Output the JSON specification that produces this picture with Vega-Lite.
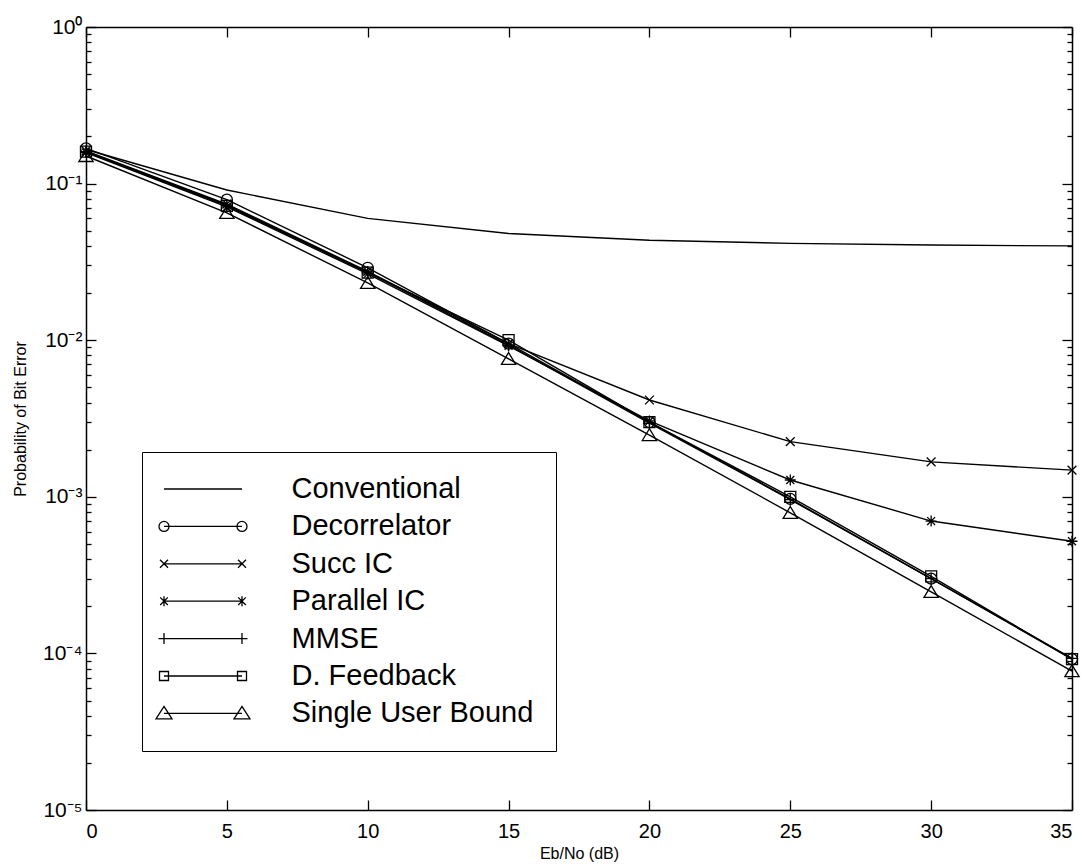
{
  "$schema": "https://vega.github.io/schema/vega-lite/v6.json",
  "width": 986,
  "height": 783,
  "autosize": "none",
  "padding": {"left": 86, "top": 27, "right": 13, "bottom": 57},
  "background": "white",
  "config": {
    "view": {"stroke": null},
    "font": "Liberation Sans",
    "axis": {"grid": false, "domainColor": "black", "domainWidth": 1.5, "tickColor": "black", "tickWidth": 1.3, "labelColor": "black", "titleColor": "black", "labelFont": "Liberation Sans", "titleFont": "Liberation Sans", "titleFontWeight": "normal"}
  },
  "data": {"values": [
    {"x": 0, "v": 0.165, "s": "Conventional"},
    {"x": 5, "v": 0.091, "s": "Conventional"},
    {"x": 10, "v": 0.060, "s": "Conventional"},
    {"x": 15, "v": 0.048, "s": "Conventional"},
    {"x": 20, "v": 0.0435, "s": "Conventional"},
    {"x": 25, "v": 0.0415, "s": "Conventional"},
    {"x": 30, "v": 0.0405, "s": "Conventional"},
    {"x": 35, "v": 0.040, "s": "Conventional"},
    {"x": 0, "v": 0.168, "s": "Decorrelator"},
    {"x": 5, "v": 0.079, "s": "Decorrelator"},
    {"x": 10, "v": 0.029, "s": "Decorrelator"},
    {"x": 15, "v": 0.0095, "s": "Decorrelator"},
    {"x": 20, "v": 0.0030, "s": "Decorrelator"},
    {"x": 25, "v": 0.00097, "s": "Decorrelator"},
    {"x": 30, "v": 0.00030, "s": "Decorrelator"},
    {"x": 35, "v": 0.000092, "s": "Decorrelator"},
    {"x": 0, "v": 0.162, "s": "Succ IC"},
    {"x": 5, "v": 0.074, "s": "Succ IC"},
    {"x": 10, "v": 0.0275, "s": "Succ IC"},
    {"x": 15, "v": 0.0095, "s": "Succ IC"},
    {"x": 20, "v": 0.00415, "s": "Succ IC"},
    {"x": 25, "v": 0.00225, "s": "Succ IC"},
    {"x": 30, "v": 0.00167, "s": "Succ IC"},
    {"x": 35, "v": 0.00148, "s": "Succ IC"},
    {"x": 0, "v": 0.158, "s": "Parallel IC"},
    {"x": 5, "v": 0.071, "s": "Parallel IC"},
    {"x": 10, "v": 0.0265, "s": "Parallel IC"},
    {"x": 15, "v": 0.0092, "s": "Parallel IC"},
    {"x": 20, "v": 0.00305, "s": "Parallel IC"},
    {"x": 25, "v": 0.00128, "s": "Parallel IC"},
    {"x": 30, "v": 0.00070, "s": "Parallel IC"},
    {"x": 35, "v": 0.00052, "s": "Parallel IC"},
    {"x": 0, "v": 0.160, "s": "MMSE"},
    {"x": 5, "v": 0.073, "s": "MMSE"},
    {"x": 10, "v": 0.0272, "s": "MMSE"},
    {"x": 15, "v": 0.0093, "s": "MMSE"},
    {"x": 20, "v": 0.00295, "s": "MMSE"},
    {"x": 25, "v": 0.00096, "s": "MMSE"},
    {"x": 30, "v": 0.00030, "s": "MMSE"},
    {"x": 35, "v": 0.000093, "s": "MMSE"},
    {"x": 0, "v": 0.160, "s": "D. Feedback"},
    {"x": 5, "v": 0.072, "s": "D. Feedback"},
    {"x": 10, "v": 0.027, "s": "D. Feedback"},
    {"x": 15, "v": 0.0100, "s": "D. Feedback"},
    {"x": 20, "v": 0.0030, "s": "D. Feedback"},
    {"x": 25, "v": 0.00100, "s": "D. Feedback"},
    {"x": 30, "v": 0.00031, "s": "D. Feedback"},
    {"x": 35, "v": 0.000092, "s": "D. Feedback"},
    {"x": 0, "v": 0.150, "s": "Single User Bound"},
    {"x": 5, "v": 0.065, "s": "Single User Bound"},
    {"x": 10, "v": 0.0232, "s": "Single User Bound"},
    {"x": 15, "v": 0.0076, "s": "Single User Bound"},
    {"x": 20, "v": 0.00248, "s": "Single User Bound"},
    {"x": 25, "v": 0.00079, "s": "Single User Bound"},
    {"x": 30, "v": 0.000247, "s": "Single User Bound"},
    {"x": 35, "v": 0.000077, "s": "Single User Bound"}
  ]},
  "layer": [
    {
      "mark": {"type": "line", "strokeWidth": 1.4, "color": "black"},
      "encoding": {
        "x": {"field": "x", "type": "quantitative", "scale": {"domain": [0, 35], "nice": false, "zero": false},
          "axis": {"orient": "bottom", "values": [0, 5, 10, 15, 20, 25, 30, 35], "tickSize": -10, "labelPadding": 21, "labelFontSize": 20, "title": "Eb/No (dB)", "titleFontSize": 16, "titlePadding": 4}},
        "y": {"field": "v", "type": "quantitative", "scale": {"type": "log", "domain": [0.00001, 1], "nice": false},
          "axis": {"orient": "left",
            "values": [0.00001,0.00002,0.00003,0.00004,0.00005,0.00006,0.00007,0.00008,0.00009,0.0001,0.0002,0.0003,0.0004,0.0005,0.0006,0.0007,0.0008,0.0009,0.001,0.002,0.003,0.004,0.005,0.006,0.007,0.008,0.009,0.01,0.02,0.03,0.04,0.05,0.06,0.07,0.08,0.09,0.1,0.2,0.3,0.4,0.5,0.6,0.7,0.8,0.9,1],
            "labelExpr": "abs(log(datum.value)/LN10 - round(log(datum.value)/LN10)) > 0.01 ? '' : '10' + ['⁰','⁻¹','⁻²','⁻³','⁻⁴','⁻⁵'][-round(log(datum.value)/LN10)]",
            "tickSize": {"condition": {"test": "abs(log(datum.value)/LN10 - round(log(datum.value)/LN10)) < 0.01", "value": -10}, "value": -5},
            "labelPadding": 14, "labelFontSize": 21, "labelOverlap": false,
            "title": "Probability of Bit Error", "titleFontSize": 16, "titlePadding": 14}},
        "detail": {"field": "s", "type": "nominal"}
      }
    },
    {
      "transform": [{"filter": "datum.s != 'Conventional'"}],
      "mark": {"type": "point", "filled": false, "strokeWidth": 1.3, "color": "black", "size": 121, "opacity": 1},
      "encoding": {
        "x": {"field": "x", "type": "quantitative",
          "axis": {"orient": "top", "values": [0, 5, 10, 15, 20, 25, 30, 35], "tickSize": -10, "labels": false, "title": null}},
        "y": {"field": "v", "type": "quantitative",
          "axis": {"orient": "right",
            "values": [0.00001,0.00002,0.00003,0.00004,0.00005,0.00006,0.00007,0.00008,0.00009,0.0001,0.0002,0.0003,0.0004,0.0005,0.0006,0.0007,0.0008,0.0009,0.001,0.002,0.003,0.004,0.005,0.006,0.007,0.008,0.009,0.01,0.02,0.03,0.04,0.05,0.06,0.07,0.08,0.09,0.1,0.2,0.3,0.4,0.5,0.6,0.7,0.8,0.9,1],
            "tickSize": {"condition": {"test": "abs(log(datum.value)/LN10 - round(log(datum.value)/LN10)) < 0.01", "value": -10}, "value": -5},
            "labels": false, "title": null}},
        "shape": {"field": "s", "type": "nominal", "legend": null,
          "scale": {"domain": ["Decorrelator", "Succ IC", "Parallel IC", "MMSE", "D. Feedback", "Single User Bound"],
            "range": ["circle", "M-0.8,-0.8L0.8,0.8M-0.8,0.8L0.8,-0.8", "M-1,0H1M0,-1V1M-0.72,-0.72L0.72,0.72M-0.72,0.72L0.72,-0.72", "M-1.1,0H1.1M0,-1.1V1.1", "square", "M0,-1.15L1.3,1H-1.3Z"]}}
      }
    },
    {
      "mark": {"type": "point", "filled": false, "strokeWidth": 1.3, "color": "black", "size": 400, "opacity": 0},
      "encoding": {
        "x": {"field": "x", "type": "quantitative", "axis": null},
        "y": {"field": "v", "type": "quantitative", "axis": null},
        "shape": {"field": "s", "type": "nominal",
          "scale": {"domain": ["Conventional", "Decorrelator", "Succ IC", "Parallel IC", "MMSE", "D. Feedback", "Single User Bound"],
            "range": [
              "M-1.5,0H6.3",
              "M-1.5,0H6.3M-1,0A0.5,0.5 0 1,1 -2,0A0.5,0.5 0 1,1 -1,0M6.8,0A0.5,0.5 0 1,1 5.8,0A0.5,0.5 0 1,1 6.8,0",
              "M-1.5,0H6.3M-1.9,-0.4L-1.1,0.4M-1.9,0.4L-1.1,-0.4M5.9,-0.4L6.7,0.4M5.9,0.4L6.7,-0.4",
              "M-1.5,0H6.3M-1.5,-0.5V0.5M-1.88,-0.38L-1.12,0.38M-1.88,0.38L-1.12,-0.38M6.3,-0.5V0.5M5.92,-0.38L6.68,0.38M5.92,0.38L6.68,-0.38",
              "M-2.05,0H6.85M-1.5,-0.55V0.55M6.3,-0.55V0.55",
              "M-1.5,0H6.3M-1.95,-0.45H-1.05V0.45H-1.95ZM5.85,-0.45H6.75V0.45H5.85Z",
              "M-1.5,0H6.3M-1.5,-0.7L-0.7,0.55H-2.3ZM6.3,-0.7L7.1,0.55H5.5Z"
            ]},
          "legend": {"orient": "none", "legendX": 56, "legendY": 425, "title": null, "direction": "vertical",
            "strokeColor": "black", "fillColor": "white", "padding": 22.5, "labelFontSize": 29, "labelFont": "Liberation Sans", "labelColor": "black", "labelLimit": 0,
            "labelOffset": 98, "rowPadding": 7.4, "symbolSize": 400, "symbolStrokeWidth": 1.3, "symbolOpacity": 1,
            "symbolStrokeColor": "black", "symbolFillColor": "transparent"}
        }
      }
    }
  ],
  "resolve": {"axis": {"x": "independent", "y": "independent"}, "scale": {"shape": "independent"}}
}
